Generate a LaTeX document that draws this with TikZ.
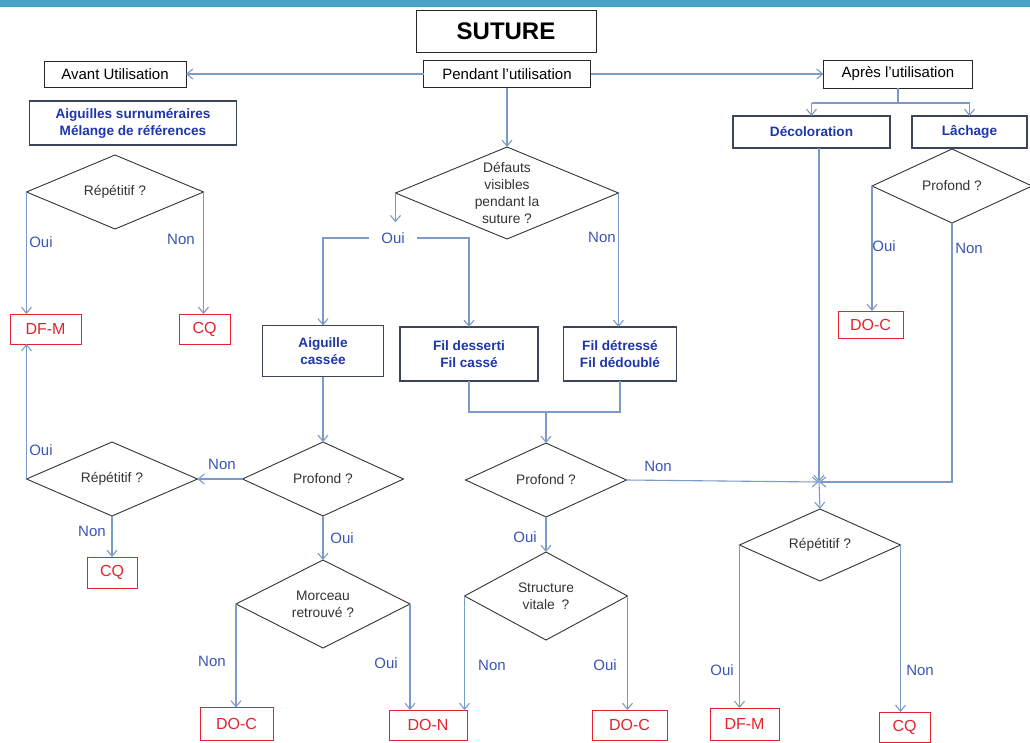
\documentclass[tikz,border=0pt]{standalone}
\usepackage{fontspec}
\setmainfont{Liberation Sans}
\usetikzlibrary{shapes.geometric,arrows.meta,calc}
\definecolor{barteal}{HTML}{4AA3C4}
\definecolor{linkblue}{HTML}{7C9AC8}
\definecolor{lblblue}{HTML}{3A55B4}
\definecolor{txtblue}{HTML}{1E36A8}
\definecolor{outred}{HTML}{E3222C}
\definecolor{slate}{HTML}{3B4458}
\tikzset{
  box/.style={draw=black!85, line width=0.9pt, inner sep=0pt, outer sep=0pt, font=\fontsize{15}{17}\selectfont},
  catbox/.style={draw=slate, line width=1.1pt, inner sep=0pt, outer sep=0pt, align=center, text=txtblue, font=\bfseries\fontsize{13.6}{17}\selectfont},
  outbox/.style={draw=outred, line width=0.9pt, inner sep=0pt, outer sep=0pt, text=outred, font=\fontsize{16}{18}\selectfont},
  ask/.style={diamond, draw=black!80, line width=0.9pt, inner sep=0pt, outer sep=0pt},
  asktext/.style={align=center, text=black!80, font=\fontsize{13.8}{17}\selectfont},
  lbl/.style={text=lblblue, font=\fontsize{15}{17}\selectfont},
  link/.style={draw=linkblue, line width=1.1pt},
  arr/.style={link, -{Straight Barb[length=6pt,width=10pt]}},
}
\begin{document}
\begin{tikzpicture}[x=1pt,y=-1pt]
    \useasboundingbox (0,0) rectangle (1030,742);
    \fill[barteal] (0,0) rectangle (1030,7);
    % Top row
    \node[box, minimum width=180pt, minimum height=42pt, font=\bfseries\fontsize{24}{26}\selectfont] (suture) at (506,31) {SUTURE};
    \node[box, minimum width=167pt, minimum height=27pt] (pendant) at (507,74) {Pendant l’utilisation};
    \node[box, minimum width=142pt, minimum height=26pt] (avant) at (115,74) {Avant Utilisation};
    \node[box, minimum width=149pt, minimum height=28pt] (apres) at (898,74) {Après l’utilisation};
    \draw[arr] (pendant.west) -- (avant.east);
    \draw[arr] (pendant.east) -- (apres.west);
    % Categories
    \node[catbox, minimum width=207pt, minimum height=44pt] (surnum) at (133,123) {Aiguilles surnuméraires\\Mélange de références};
    \node[catbox, minimum width=157pt, minimum height=32pt] (deco) at (811.5,132) {Décoloration};
    \node[catbox, minimum width=115pt, minimum height=32pt] (lach) at (969.5,132) {Lâchage};
    \coordinate (fork) at (898,103);
    \draw[link] (apres.south) -- (fork);
    \draw[link] (fork -| deco) -- (fork -| lach);
    \draw[arr] (fork -| deco) -- (deco.north);
    \draw[arr] (fork -| lach) -- (lach.north);
    \node[catbox, minimum width=121pt, minimum height=51pt] (aig) at (323,351) {Aiguille\\cassée};
    \node[catbox, minimum width=138pt, minimum height=54pt] (fild) at (469,354) {Fil desserti\\Fil cassé};
    \node[catbox, minimum width=113pt, minimum height=54pt] (filt) at (620,354) {Fil détressé\\Fil dédoublé};
    % Decisions
    \node[ask, minimum width=177pt, minimum height=74pt] (rep1) at (115,192) {};
    \node[asktext] (rep1t) at (rep1) {Répétitif ?};
    \node[ask, minimum width=223pt, minimum height=92pt] (def) at (507,193) {};
    \node[asktext] (deft) at (def) {Défauts\\visibles\\pendant la\\suture ?};
    \node[ask, minimum width=161pt, minimum height=74pt] (prof1) at (323,479) {};
    \node[asktext] (prof1t) at (prof1) {Profond ?};
    \node[ask, minimum width=171pt, minimum height=74pt] (rep2) at (112,479) {};
    \node[asktext] (rep2t) at (rep2) {Répétitif ?};
    \node[ask, minimum width=174pt, minimum height=88pt] (morc) at (323,604) {};
    \node[asktext] (morct) at (morc) {Morceau\\retrouvé ?};
    \node[ask, minimum width=161pt, minimum height=74pt] (prof2) at (546,480) {};
    \node[asktext] (prof2t) at (prof2) {Profond ?};
    \node[ask, minimum width=163pt, minimum height=88pt] (struct) at (546,596) {};
    \node[asktext] (structt) at (struct) {Structure\\vitale\enspace?};
    \node[ask, minimum width=160pt, minimum height=74pt] (prof3) at (952,186) {};
    \node[asktext] (prof3t) at (prof3) {Profond ?};
    \node[ask, minimum width=161pt, minimum height=72pt] (rep3) at (820,545) {};
    \node[asktext] (rep3t) at (rep3) {Répétitif ?};
    % Outcomes
    \node[outbox, minimum width=71pt, minimum height=30pt] (dfm1) at (45.5,329) {DF-M};
    \node[outbox, minimum width=51pt, minimum height=30pt] (cq1) at (204.5,329) {CQ};
    \node[outbox, minimum width=50pt, minimum height=31pt] (cq2) at (112,572.5) {CQ};
    \node[outbox, minimum width=73pt, minimum height=33pt] (doc1) at (236.5,724) {DO-C};
    \node[outbox, minimum width=78pt, minimum height=30pt] (don) at (428,725) {DO-N};
    \node[outbox, minimum width=75pt, minimum height=30pt] (doc2) at (629.5,725) {DO-C};
    \node[outbox, minimum width=69pt, minimum height=32pt] (dfm2) at (744.5,724) {DF-M};
    \node[outbox, minimum width=51pt, minimum height=30pt] (cq3) at (904.5,727) {CQ};
    \node[outbox, minimum width=65pt, minimum height=27pt] (doc3) at (870.5,324.5) {DO-C};
    % Connectors
    \draw[arr] (pendant.south) -- (def.north);
    \draw[arr] (rep1.west) -- (rep1.west |- dfm1.north);
    \draw[arr] (rep1.east) -- (rep1.east |- cq1.north);
    \node[lbl] (o1) at (41,242) {Oui};
    \node[lbl] (n1) at (181,239) {Non};
    \node[lbl, inner xsep=12pt, inner ysep=10pt] (ouiD) at (393,238) {Oui};
    \draw[arr] (def.west) -- (def.west |- ouiD.north);
    \draw[arr] (ouiD.west) -| (aig.north);
    \draw[arr] (ouiD.east) -| (fild.north);
    \draw[arr] (def.east) -- (def.east |- filt.north);
    \node[lbl] (n2) at (602,237) {Non};
    \draw[arr] (aig.south) -- (prof1.north);
    \coordinate (jf) at (546,412);
    \draw[link] (fild.south) |- (jf) -| (filt.south);
    \draw[arr] (jf) -- (prof2.north);
    \draw[arr] (prof1.west) -- (rep2.east);
    \node[lbl] (n3) at (222,464) {Non};
    \draw[arr] (rep2.west) -- (rep2.west |- dfm1.south);
    \node[lbl] (o3) at (41,450) {Oui};
    \draw[arr] (rep2.south) -- (cq2.north);
    \node[lbl] (n4) at (92,531) {Non};
    \draw[arr] (prof1.south) -- (morc.north);
    \node[lbl] (o4) at (342,538) {Oui};
    \draw[arr] (morc.west) -- (morc.west |- doc1.north);
    \node[lbl] (n5) at (212,661) {Non};
    \draw[arr] (morc.east) -- (morc.east |- don.north);
    \node[lbl] (o5) at (386,663) {Oui};
    \draw[arr] (prof2.south) -- (struct.north);
    \node[lbl] (o6) at (525,537) {Oui};
    \draw[arr] (struct.west) -- (struct.west |- don.north);
    \node[lbl] (n6) at (492,665) {Non};
    \draw[arr] (struct.east) -- (struct.east |- doc2.north);
    \node[lbl] (o7) at (605,665) {Oui};
    % Right branch and merge point
    \coordinate (merge) at (819,482);
    \draw[arr] (prof2.east) -- (merge);
    \node[lbl] (n7) at (658,466) {Non};
    \draw[arr] (deco.south -| merge) -- (merge);
    \draw[arr] (prof3.south) |- (merge);
    \node[lbl] (n8) at (969,248) {Non};
    \draw[arr] (prof3.west) -- (prof3.west |- doc3.north);
    \node[lbl] (o8) at (884,246) {Oui};
    \draw[arr] (merge) -- (rep3.north);
    \draw[arr] (rep3.west) -- (rep3.west |- dfm2.north);
    \node[lbl] (o9) at (722,670) {Oui};
    \draw[arr] (rep3.east) -- (rep3.east |- cq3.north);
    \node[lbl] (n9) at (920,670) {Non};
\end{tikzpicture}
\end{document}
